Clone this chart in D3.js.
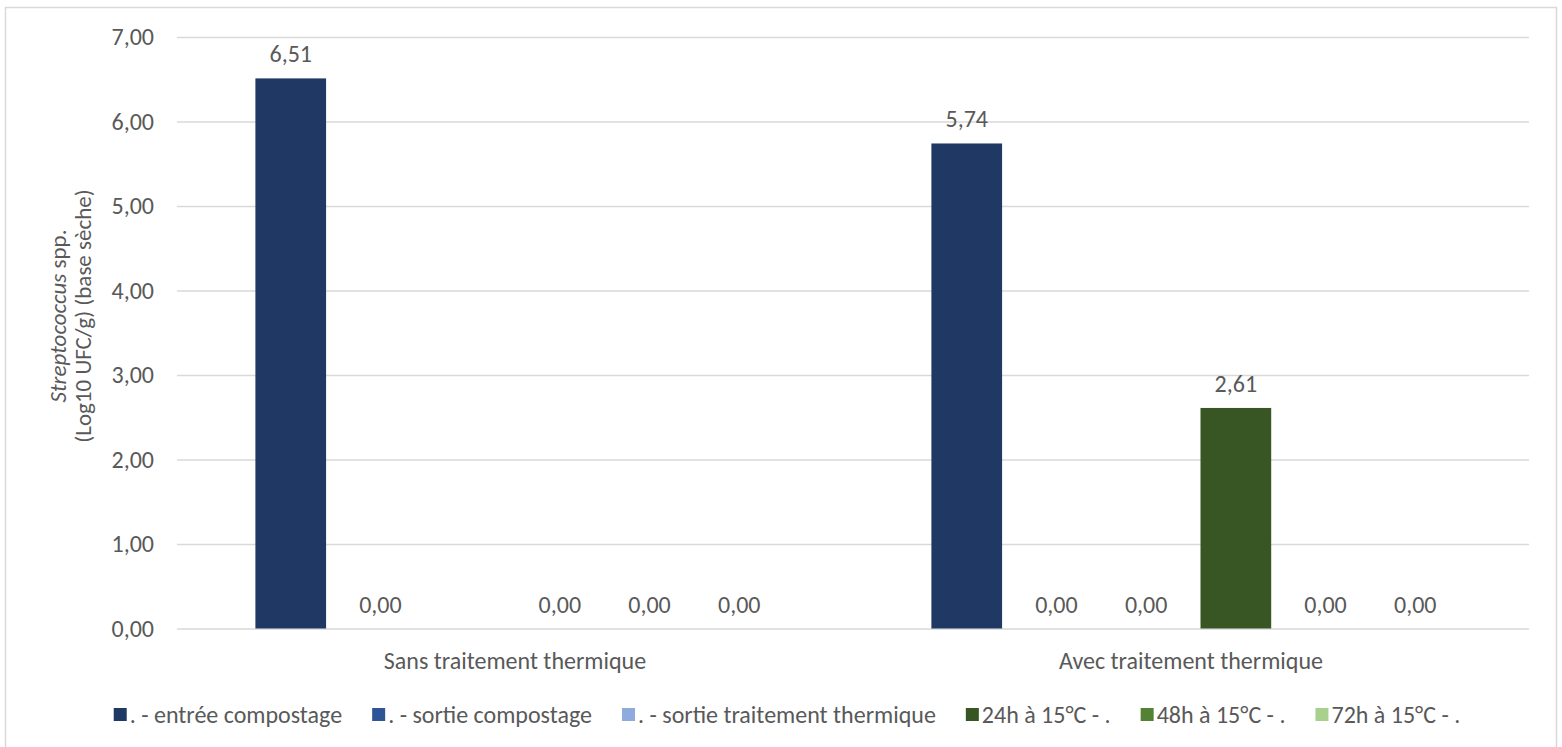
<!DOCTYPE html>
<html lang="fr">
<head>
<meta charset="utf-8">
<script src="https://cdn.jsdelivr.net/npm/d3@7"></script>
<style>
  html, body { margin: 0; padding: 0; background: #ffffff; }
  svg { display: block; }
  text { font-family: Carlito, Calibri, Lato, "Liberation Sans", Arial, sans-serif; fill: #595959; }
</style>
</head>
<body>
<svg id="chart" width="1562" height="747"></svg>
<script>
// Categories on the x axis
const categories = ["Sans traitement thermique", "Avec traitement thermique"];

// Series (legend order) and their colours
const seriesNames = [
  ". - entrée compostage",
  ". - sortie compostage",
  ". - sortie traitement thermique",
  "24h à 15°C - .",
  "48h à 15°C - .",
  "72h à 15°C - ."
];
const seriesColors = ["#203864", "#2F5597", "#8FAADC", "#375623", "#548235", "#A9D18E"];

// Values per series, one per category (null = no measurement)
const entreeCompostage = [6.51, 5.74];
const sortieCompostage = [0.00, 0.00];
const sortieTraitement = [null, 0.00];
const h24 = [0.00, 2.61];
const h48 = [0.00, 0.00];
const h72 = [0.00, 0.00];
const seriesValues = [entreeCompostage, sortieCompostage, sortieTraitement, h24, h48, h72];

// Y axis ticks
const yTicks = [0, 1, 2, 3, 4, 5, 6, 7];

const W = 1562, H = 747;
const plot = { left: 177, right: 1529, top: 37, bottom: 628.5 };
const FS = 24;
const FONT = 'Carlito, Calibri, Lato, "Liberation Sans", Arial, sans-serif';

const fr = d3.formatLocale({ decimal: ",", thousands: " ", grouping: [3], currency: ["", " €"] });
const fmt = fr.format(".2f");

const svg = d3.select("#chart");

// Outer frame
svg.append("rect")
  .attr("x", 5.5).attr("y", 7.5)
  .attr("width", W - 11).attr("height", H + 10)
  .attr("fill", "#ffffff")
  .attr("stroke", "#d9d9d9").attr("stroke-width", 1.5);

const y = d3.scaleLinear().domain([0, 7]).range([plot.bottom, plot.top]);
const x0 = d3.scaleBand().domain(categories).range([plot.left, plot.right]).padding(0);
const x1 = d3.scaleBand().domain(d3.range(seriesNames.length))
  .range([0, x0.bandwidth()]).paddingInner(0.212).paddingOuter(0.874);

// Gridlines and tick labels
const yAxis = d3.axisLeft(y).tickValues(yTicks).tickSize(-(plot.right - plot.left)).tickPadding(23).tickFormat(fmt);
const gy = svg.append("g").attr("transform", `translate(${plot.left},0)`).call(yAxis);
gy.select(".domain").remove();
gy.selectAll(".tick line").attr("stroke", "#d9d9d9").attr("stroke-width", 1.5);
gy.selectAll(".tick text").attr("font-size", FS).attr("fill", "#595959")
  .style("font-family", FONT);

// Bars
const bars = [];
seriesValues.forEach((vals, si) => {
  vals.forEach((v, ci) => {
    if (v !== null) bars.push({ si, ci, v });
  });
});

const gBars = svg.append("g");
gBars.selectAll("rect").data(bars).join("rect")
  .attr("x", d => x0(categories[d.ci]) + x1(d.si))
  .attr("width", x1.bandwidth())
  .attr("y", d => y(d.v))
  .attr("height", d => y(0) - y(d.v))
  .attr("fill", d => seriesColors[d.si]);

// Value labels
gBars.selectAll("text").data(bars).join("text")
  .attr("x", d => x0(categories[d.ci]) + x1(d.si) + x1.bandwidth() / 2)
  .attr("y", d => y(d.v) - 16)
  .attr("text-anchor", "middle")
  .attr("font-size", FS)
  .text(d => fmt(d.v));

// Category labels
svg.append("g").selectAll("text").data(categories).join("text")
  .attr("x", d => x0(d) + x0.bandwidth() / 2)
  .attr("y", 669)
  .attr("text-anchor", "middle")
  .attr("font-size", FS)
  .text(d => d);

// Y axis title (two lines, rotated)
const title = svg.append("text")
  .attr("transform", `rotate(-90)`)
  .attr("text-anchor", "middle")
  .attr("font-size", 23);
const t1 = title.append("tspan").attr("x", -316).attr("y", 66);
t1.append("tspan").attr("font-style", "italic").text("Streptococcus");
t1.append("tspan").text(" spp.");
title.append("tspan").attr("x", -316).attr("y", 91).text("(Log10 UFC/g) (base sèche)");

// Legend
const legend = svg.append("g");
const items = legend.selectAll("g").data(seriesNames).join("g");
items.append("rect").attr("width", 13).attr("height", 13).attr("y", -6.5)
  .attr("fill", (d, i) => seriesColors[i]);
items.append("text").attr("x", 16).attr("dy", "0.35em").attr("font-size", FS).text(d => d);
let cx = 0;
const itemGap = 30;
items.each(function () {
  const w = 16 + d3.select(this).select("text").node().getComputedTextLength();
  d3.select(this).attr("transform", `translate(${cx},0)`);
  cx += w + itemGap;
});
const legendWidth = cx - itemGap;
legend.attr("transform", `translate(${787 - legendWidth / 2},714.5)`);
</script>
</body>
</html>
